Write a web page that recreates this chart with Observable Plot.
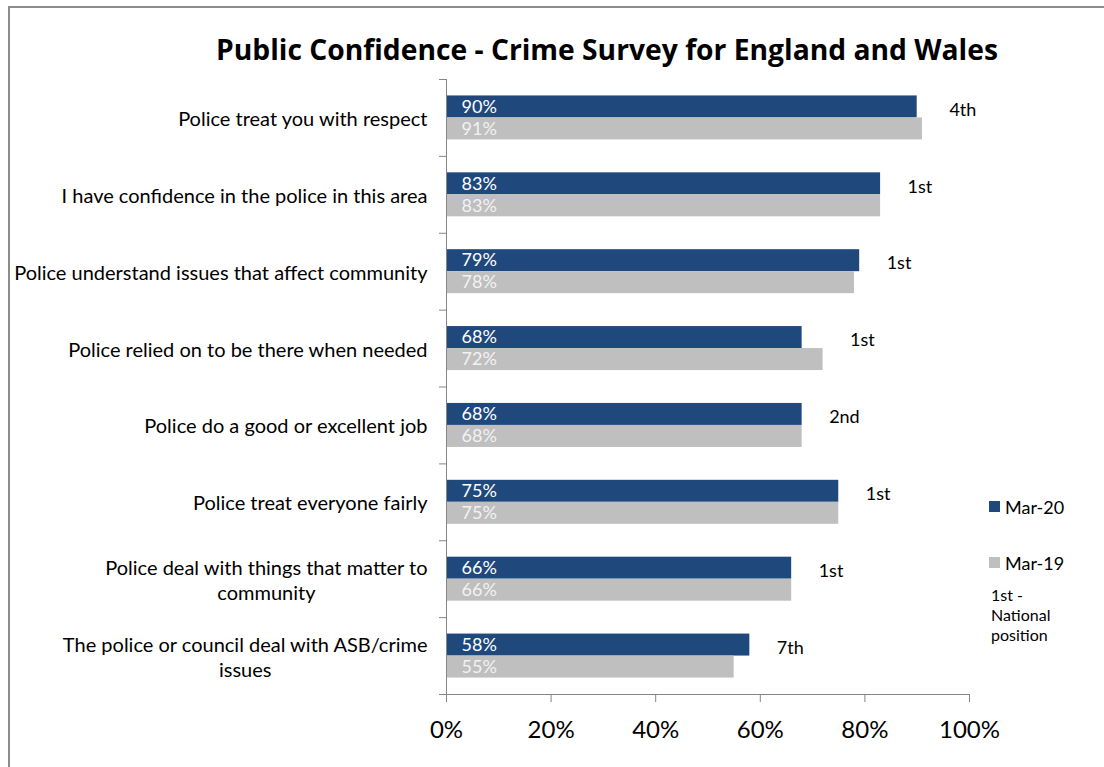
<!DOCTYPE html>
<html>
<head>
<meta charset="utf-8">
<script src="https://cdn.jsdelivr.net/npm/d3@7"></script>
<script src="https://cdn.jsdelivr.net/npm/@observablehq/plot@0.6"></script>
<style>
  html, body { margin: 0; padding: 0; background: #fff; }
  #wrap { position: relative; width: 1104px; height: 767px; overflow: hidden; font-family: Lato, "Open Sans", sans-serif; color: #000; }
  #frame { position: absolute; left: 8px; top: 6px; width: 1200px; height: 900px; border-left: 2px solid #8c8c8c; border-top: 2px solid #8c8c8c; }
  #title { position: absolute; left: 107px; width: 1000px; top: 34px; text-align: center; font-family: "Open Sans", Lato, sans-serif; font-weight: bold; font-size: 25px; line-height: 30px; white-space: nowrap; }
  #title span { display: inline-block; }
  #chart { position: absolute; left: 0; top: 0; }
  .sw { position: absolute; width: 11px; height: 11px; }
  .lg { position: absolute; font-size: 18px; line-height: 20px; white-space: nowrap; }
  #note { position: absolute; left: 991px; top: 585px; font-size: 16px; line-height: 20px; }
</style>
</head>
<body>
<div id="wrap">
  <div id="frame"></div>
  <div id="title"><span id="titletext"></span></div>
  <div id="chart"></div>
  <div class="sw" id="sw0" style="left:989px; top:501px;"></div>
  <div class="lg" id="lg0" style="left:1005px; top:497px;"></div>
  <div class="sw" id="sw1" style="left:989px; top:557px;"></div>
  <div class="lg" id="lg1" style="left:1005px; top:553px;"></div>
  <div id="note"></div>
</div>
<script>
const titleText = "Public Confidence - Crime Survey for England and Wales";
const categories = [
  "Police treat you with respect",
  "I have confidence in the police in this area",
  "Police understand issues that affect community",
  "Police relied on to be there when needed",
  "Police do a good or excellent job",
  "Police treat everyone fairly",
  "Police deal with things that matter to\ncommunity",
  "The police or council deal with ASB/crime\nissues"
];
const seriesNames = ["Mar-20", "Mar-19"];
const seriesColors = ["#1F497D", "#BFBFBF"];
const mar20 = [90, 83, 79, 68, 68, 75, 66, 58];
const mar19 = [91, 83, 78, 72, 68, 75, 66, 55];
const ranks = ["4th", "1st", "1st", "1st", "2nd", "1st", "1st", "7th"];
const xTicks = [0, 20, 40, 60, 80, 100];
const noteLines = ["1st -", "National", "position"];

const tspan = document.getElementById("titletext");
tspan.textContent = titleText;
// fit the title to the width it takes in the original (about 782px)
const tw = tspan.getBoundingClientRect().width;
if (tw > 0) document.getElementById("title").style.fontSize = (25 * 782 / tw).toFixed(2) + "px";

document.getElementById("sw0").style.background = seriesColors[0];
document.getElementById("sw1").style.background = seriesColors[1];
document.getElementById("lg0").textContent = seriesNames[0];
document.getElementById("lg1").textContent = seriesNames[1];
document.getElementById("note").innerHTML = noteLines.join("<br>");

const rows20 = categories.map((c, i) => ({cat: c, series: seriesNames[0], value: mar20[i]}));
const rows19 = categories.map((c, i) => ({cat: c, series: seriesNames[1], value: mar19[i]}));

const W = 1104, H = 767, mt = 79, mb = 73, ml = 446, mr = 135;
const step = (H - mt - mb) / categories.length;
const barH = 22;
const outer = (step - 2 * barH) / 2;
const axisGray = "#868686";

const chart = Plot.plot({
  width: W, height: H,
  marginTop: mt, marginBottom: mb, marginLeft: ml, marginRight: mr,
  style: {fontFamily: "Lato, 'Open Sans', sans-serif", fontSize: "18px", color: "#000", background: "transparent"},
  x: {domain: [0, 100]},
  y: {domain: categories, padding: 0, round: false, axis: null},
  color: {domain: seriesNames, range: seriesColors},
  marks: [
    Plot.barX(rows20, {y: "cat", x: "value", fill: "series", insetTop: outer, insetBottom: outer + barH}),
    Plot.barX(rows19, {y: "cat", x: "value", fill: "series", insetTop: outer + barH, insetBottom: outer}),
    Plot.text(rows20, {y: "cat", x: 0, dx: 15, dy: -barH / 2, text: d => d.value + "%", textAnchor: "start", fill: "#ffffff", fontSize: 18}),
    Plot.text(rows19, {y: "cat", x: 0, dx: 15, dy: barH / 2, text: d => d.value + "%", textAnchor: "start", fill: "#f2f2f2", fontSize: 18}),
    Plot.text(categories, {y: d => d, x: (d, i) => Math.max(mar20[i], mar19[i]), text: (d, i) => ranks[i], dx: 27, dy: -8, textAnchor: "start", fill: "#000", fontSize: 18}),
    Plot.text(categories, {y: d => d, x: 0, dx: -19, text: d => d, textAnchor: "end", fill: "#000", fontSize: 20, lineHeight: 25 / 20}),
    Plot.ruleX([0], {stroke: axisGray}),
    Plot.ruleY(categories, {y: d => d, x1: 0, x2: 0, insetLeft: -7, dy: -step / 2, stroke: axisGray}),
    Plot.ruleY([categories[categories.length - 1]], {y: d => d, insetLeft: -7, dy: step / 2, stroke: axisGray}),
    Plot.axisX({ticks: xTicks, tickFormat: d => d + "%", tickSize: 8, tickPadding: 18, fontSize: 24, stroke: axisGray, fill: "#000", label: null})
  ]
});
document.getElementById("chart").appendChild(chart);

// center the lines of multi-line category labels, as in the original
chart.querySelectorAll("text").forEach(t => {
  const spans = t.querySelectorAll("tspan");
  if (spans.length > 1) {
    let maxW = 0;
    spans.forEach(s => { maxW = Math.max(maxW, s.getComputedTextLength()); });
    t.setAttribute("text-anchor", "middle");
    t.style.textAnchor = "middle";
    spans.forEach(s => s.setAttribute("x", -maxW / 2));
  }
});
</script>
</body>
</html>
